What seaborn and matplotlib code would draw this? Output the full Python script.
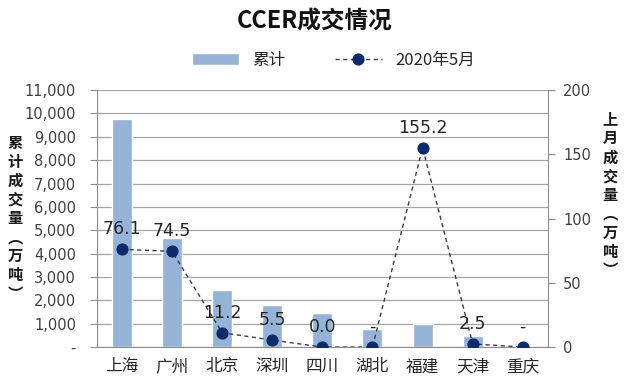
import matplotlib
matplotlib.use("Agg")
import matplotlib.pyplot as plt
import seaborn as sns
import pandas as pd

# data
cities = ["上海", "广州", "北京", "深圳", "四川", "湖北", "福建", "天津", "重庆"]
cumulative = [9750, 4650, 2440, 1800, 1450, 770, 980, 470, 60]
last_month = [76.1, 74.5, 11.2, 5.5, 0.0, 0.0, 155.2, 2.5, 0.0]
month_labels = ["76.1", "74.5", "11.2", "5.5", "0.0", "-", "155.2", "2.5", "-"]

sns.set_style("white")
plt.rcParams['font.family'] = ['DejaVu Sans', 'Noto Sans CJK SC']
cjk = ['Noto Sans CJK SC', 'DejaVu Sans']

df = pd.DataFrame({"city": cities, "cum": cumulative, "month": last_month})

bar_color = "#95B3D7"
navy = "#0D2A6B"

fig = plt.figure(figsize=(6.29, 3.9), dpi=100)
ax = fig.add_axes([0.154, 0.110, 0.717, 0.659])

sns.barplot(data=df, x="city", y="cum", color=bar_color, width=0.4,
            saturation=1, ax=ax, label="累计", zorder=2, legend=False)
ax.set_ylim(0, 11000)
ax.set_yticks(range(0, 11001, 1000))
ax.set_yticklabels(["-"] + [f"{v:,}" for v in range(1000, 11001, 1000)])
ax.yaxis.grid(True, color="#A6A6A6", linewidth=0.9, zorder=0)
ax.set_axisbelow(True)
ax.set_xlabel("")
ax.set_ylabel("")
for side in ["top", "right"]:
    ax.spines[side].set_visible(False)
ax.spines["left"].set_color("#8C8C8C")
ax.spines["bottom"].set_color("#8C8C8C")
ax.tick_params(axis="y", length=5, color="#8C8C8C", labelsize=10.5, labelcolor="#404040",
               direction="out", pad=10)
ax.tick_params(axis="x", length=0, labelsize=12, labelcolor="#262626", pad=8)
for t in ax.get_xticklabels():
    t.set_family(cjk)
# category separators on x axis
ax.set_xticks([i - 0.5 for i in range(1, len(cities))], minor=True)
ax.tick_params(axis="x", which="minor", length=5, color="#8C8C8C")
ax.set_xlim(-0.5, len(cities) - 0.5)

ax2 = ax.twinx()
sns.pointplot(data=df, x="city", y="month", color=navy, linestyle=(0, (3, 2.5)),
              marker="o", markersize=8, linewidth=1.0, ax=ax2, label="2020年5月")
ax2.lines[0].set_color("#3A3A50")
ax2.lines[0].set_markerfacecolor(navy)
ax2.lines[0].set_markeredgecolor(navy)
if ax2.get_legend() is not None:
    ax2.get_legend().remove()
ax2.set_ylim(0, 200)
ax2.set_yticks([0, 50, 100, 150, 200])
ax2.set_ylabel("")
ax2.tick_params(axis="y", length=5, color="#8C8C8C", labelsize=10.5, labelcolor="#404040", pad=6)
for side in ["top", "left", "bottom"]:
    ax2.spines[side].set_visible(False)
ax2.spines["right"].set_color("#8C8C8C")
ax2.set_xlim(-0.5, len(cities) - 0.5)

for i, (v, lab) in enumerate(zip(last_month, month_labels)):
    ax2.annotate(lab, (i, v), xytext=(0, 8), textcoords="offset points",
                 ha="center", va="bottom", fontsize=12.5, color="#262626")

# vertical axis titles
fig.text(0.024, 0.44, "累\n计\n成\n交\n量\n︵\n万\n吨\n︶", ha="center", va="center",
         fontsize=11, fontweight="bold", linespacing=1.22, color="#1a1a1a", family=cjk)
fig.text(0.97, 0.50, "上\n月\n成\n交\n量\n︵\n万\n吨\n︶", ha="center", va="center",
         fontsize=11, fontweight="bold", linespacing=1.22, color="#1a1a1a", family=cjk)

fig.text(0.50, 0.945, "CCER成交情况", ha="center", va="center",
         fontsize=17, fontweight="bold", color="#111111", family=cjk)

h1, l1 = ax.get_legend_handles_labels()
h2, l2 = ax2.get_legend_handles_labels()
fig.legend(h1 + h2, l1 + l2, loc="center", bbox_to_anchor=(0.53, 0.845), ncol=2,
           frameon=False, handlelength=2.8, columnspacing=3.0,
           prop={"family": cjk, "size": 12})

fig.savefig("out.png", dpi=100)
